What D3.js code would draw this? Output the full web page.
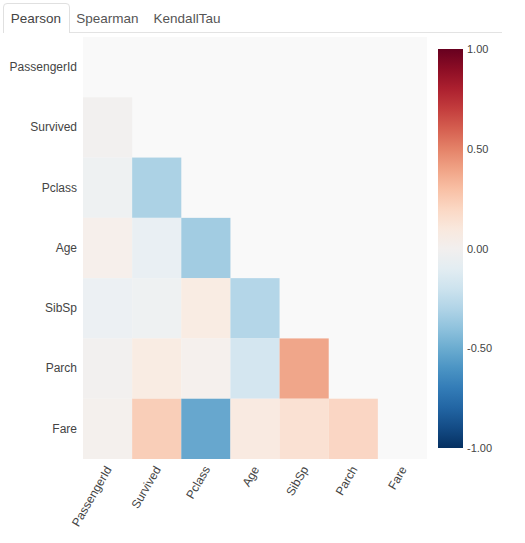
<!DOCTYPE html>
<html>
<head>
<meta charset="utf-8">
<script src="https://cdn.jsdelivr.net/npm/d3@7"></script>
<style>
  html, body { margin: 0; padding: 0; background: #fff; }
  svg { display: block; font-family: "Liberation Sans", Arial, sans-serif; }
</style>
</head>
<body>
<svg id="chart" width="525" height="543"></svg>
<script>
const tabs = ["Pearson", "Spearman", "KendallTau"];
const variables = ["PassengerId", "Survived", "Pclass", "Age", "SibSp", "Parch", "Fare"];
// lower-triangle Pearson correlations (row i, columns 0..i-1)
const rowSurvived = [-0.005];
const rowPclass = [-0.035, -0.338];
const rowAge = [0.037, -0.077, -0.369];
const rowSibSp = [-0.058, -0.035, 0.083, -0.308];
const rowParch = [-0.002, 0.082, 0.018, -0.189, 0.415];
const rowFare = [0.013, 0.257, -0.549, 0.096, 0.160, 0.216];
const lowerRows = [[], rowSurvived, rowPclass, rowAge, rowSibSp, rowParch, rowFare];
const colorbarTicks = [1, 0.5, 0, -0.5, -1];

const svg = d3.select("#chart");

// Tabs
const tabX = [3, 69, 146];
const tabW = [66, 77, 82];
const tabG = svg.append("g");
tabG.append("line").attr("x1", 3).attr("x2", 502).attr("y1", 32.5).attr("y2", 32.5)
  .attr("stroke", "#e3e3e3");
tabG.append("path")
  .attr("d", `M3.5,33 V7 Q3.5,3.5 7,3.5 H66 Q69.5,3.5 69.5,7 V33`)
  .attr("fill", "#fff").attr("stroke", "#e0e0e0");
tabs.forEach((t, i) => {
  tabG.append("text").attr("x", tabX[i] + tabW[i] / 2).attr("y", 23)
    .attr("text-anchor", "middle").attr("font-size", 13.5)
    .attr("fill", i === 0 ? "#444" : "#555").text(t);
});

// Heatmap
const x = d3.scaleBand().domain(variables).range([83, 427]);
const y = d3.scaleBand().domain(variables).range([37, 459]);
const color = v => d3.interpolateRdBu((1 - v) / 2);

svg.append("rect").attr("x", 83).attr("y", 37).attr("width", 344).attr("height", 422)
  .attr("fill", "#f9f9f9");

const cells = [];
lowerRows.forEach((row, i) => row.forEach((v, j) => cells.push({r: variables[i], c: variables[j], v})));
svg.append("g").selectAll("rect").data(cells).join("rect")
  .attr("x", d => x(d.c)).attr("y", d => y(d.r))
  .attr("width", x.bandwidth()).attr("height", y.bandwidth())
  .attr("fill", d => color(d.v)).attr("fill-opacity", 0.92);

// Y axis labels
const yAxis = svg.append("g").attr("transform", "translate(83,0)")
  .call(d3.axisLeft(y).tickSize(0).tickPadding(6));
yAxis.select(".domain").remove();
yAxis.selectAll("text").attr("font-size", 12).attr("fill", "#444")
  .attr("font-family", "Liberation Sans, Arial, sans-serif");

// X axis labels
const xAxis = svg.append("g").attr("transform", "translate(0,459)")
  .call(d3.axisBottom(x).tickSize(0).tickPadding(0));
xAxis.select(".domain").remove();
xAxis.selectAll("text")
  .attr("font-size", 12).attr("fill", "#444")
  .attr("font-family", "Liberation Sans, Arial, sans-serif")
  .attr("text-anchor", "end")
  .attr("dy", "0.35em")
  .attr("transform", "translate(1,8) rotate(-60)");

// Colorbar
const cb = d3.scaleLinear().domain([-1, 1]).range([448, 49]);
const defs = svg.append("defs");
const grad = defs.append("linearGradient").attr("id", "cbgrad")
  .attr("x1", 0).attr("y1", 1).attr("x2", 0).attr("y2", 0);
d3.range(0, 1.0001, 0.05).forEach(t => {
  grad.append("stop").attr("offset", t).attr("stop-color", color(-1 + 2 * t));
});
svg.append("rect").attr("x", 438).attr("y", 49).attr("width", 25).attr("height", 399)
  .attr("fill", "url(#cbgrad)");
const cbAxis = svg.append("g").attr("transform", "translate(463,0)")
  .call(d3.axisRight(cb).tickValues(colorbarTicks).tickFormat(d3.format(".2f")).tickSize(3).tickPadding(1));
cbAxis.select(".domain").remove();
cbAxis.selectAll("line").attr("stroke", "#fff");
cbAxis.selectAll("text").attr("font-size", 11).attr("fill", "#444")
  .attr("font-family", "Liberation Sans, Arial, sans-serif")
  .text(d => d3.format(".2f")(d).replace("−", "-"));
</script>
</body>
</html>
